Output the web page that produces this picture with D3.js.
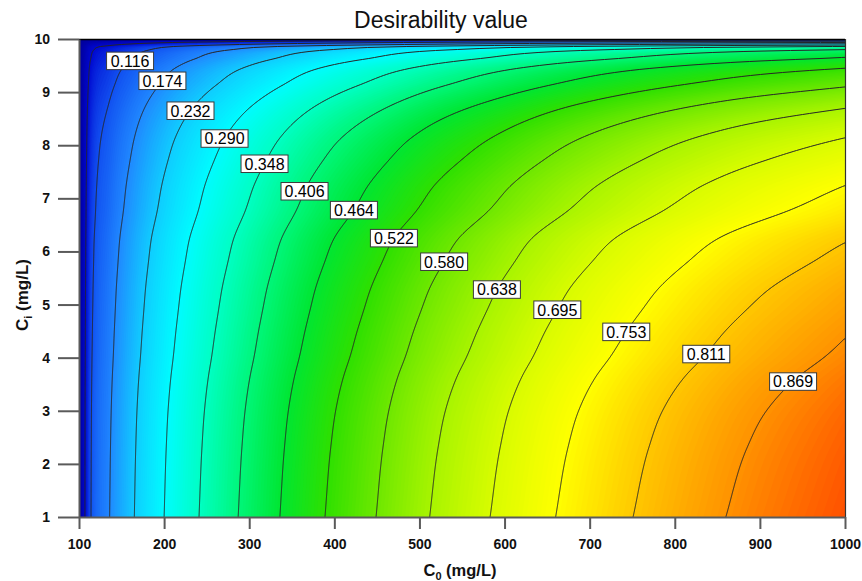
<!DOCTYPE html>
<html>
<head>
<meta charset="utf-8">
<script src="https://cdn.jsdelivr.net/npm/d3@7"></script>
<style>
  body { margin: 0; background: #fff; }
  svg { display: block; }
  text { font-family: Arial, "Liberation Sans", sans-serif; }
</style>
</head>
<body>
<svg id="chart" width="862" height="581"></svg>
<script>
// ---- Data ---------------------------------------------------------------
// Desirability along the lower edge (Ci = 1 mg/L) as a function of C0
const c0Knots   = [100, 107, 114, 136, 165, 200, 241, 287, 336, 389, 449, 512, 583, 660, 751, 860, 1000];
const dAtCiMin  = [0.000, 0.058, 0.116, 0.174, 0.232, 0.290, 0.348, 0.406, 0.464, 0.522, 0.580, 0.638, 0.695, 0.753, 0.811, 0.869, 0.927];

// Desirability along the right edge (C0 = 1000 mg/L) as a function of Ci
const ciKnots   = [1, 2.3, 3, 3.64, 4.02, 4.5, 4.89, 5.3, 5.79, 6.22, 6.77, 7.26, 7.67, 8.14, 8.67, 9.13, 9.45, 9.62, 9.80, 9.86, 9.885, 9.935, 9.98, 10];
const dAtC0Max  = [0.927, 0.915, 0.905, 0.890, 0.878, 0.8655, 0.8545, 0.843, 0.825, 0.8085, 0.775, 0.752, 0.727, 0.695, 0.641, 0.575, 0.522, 0.474, 0.406, 0.348, 0.290, 0.174, 0.058, 0.000];

// Contour levels (the lowest one is drawn without a label)
const contourLevels = [0.058, 0.116, 0.174, 0.232, 0.290, 0.348, 0.406, 0.464, 0.522, 0.580, 0.638, 0.695, 0.753, 0.811, 0.869];
const labelledLevels = contourLevels.slice(1);
// C0 position at which each contour label sits
const labelC0 = [160, 198, 231, 271, 318, 365, 423, 470, 529, 591, 662, 743, 837, 939];

const xTicks = [100, 200, 300, 400, 500, 600, 700, 800, 900, 1000];
const yTicks = [1, 2, 3, 4, 5, 6, 7, 8, 9, 10];

// ---- Layout -------------------------------------------------------------
const plot = { left: 79, right: 845, top: 39, bottom: 517 };
const svg = d3.select("#chart");

const x = d3.scaleLinear().domain([100, 1000]).range([plot.left, plot.right]);
const y = d3.scaleLinear().domain([1, 10]).range([plot.bottom, plot.top]);

// Colour ramp of the response surface
const color = d3.scaleLinear()
  .domain([0.00, 0.06, 0.116, 0.174, 0.232, 0.29, 0.348, 0.406, 0.464, 0.522, 0.58, 0.638, 0.695, 0.753, 0.811, 0.869, 0.927])
  .range(["#00009a", "#0008d0", "#1250f0", "#2088ff", "#10ccff", "#00fcff", "#00ffc4", "#00f67a", "#00e632",
          "#2ee000", "#6ee800", "#a8f400", "#d8fc00", "#ffff00", "#ffc800", "#ff9200", "#ff5000"])
  .interpolate(d3.interpolateRgb)
  .clamp(true);

// Monotone cubic (Steffen) interpolation through the profile knots
function monotone(xs, ys) {
  const n = xs.length, h = [], d = [], m = [];
  for (let i = 0; i < n - 1; i++) { h[i] = xs[i + 1] - xs[i]; d[i] = (ys[i + 1] - ys[i]) / h[i]; }
  m[0] = d[0]; m[n - 1] = d[n - 2];
  for (let i = 1; i < n - 1; i++) {
    if (d[i - 1] * d[i] <= 0) { m[i] = 0; continue; }
    const p = (d[i - 1] * h[i] + d[i] * h[i - 1]) / (h[i - 1] + h[i]);
    m[i] = (Math.sign(d[i - 1]) + Math.sign(d[i])) * Math.min(Math.abs(d[i - 1]), Math.abs(d[i]), 0.5 * Math.abs(p));
  }
  return v => {
    if (v <= xs[0]) return ys[0];
    if (v >= xs[n - 1]) return ys[n - 1];
    let i = d3.bisectRight(xs, v) - 1;
    const t = (v - xs[i]) / h[i], t2 = t * t, t3 = t2 * t;
    return (2 * t3 - 3 * t2 + 1) * ys[i] + (t3 - 2 * t2 + t) * h[i] * m[i] +
           (-2 * t3 + 3 * t2) * ys[i + 1] + (t3 - t2) * h[i] * m[i + 1];
  };
}

const alongC0 = monotone(c0Knots, dAtCiMin);
const alongCi = monotone(ciKnots, dAtC0Max);
const dTop = dAtCiMin[dAtCiMin.length - 1];
const desirability = (c0, ci) => alongC0(c0) * alongCi(ci) / dTop;

// ---- Sampled grid (slightly wider than the plot so edges stay open) -----
const cellW = 2, cellH = 1, pad = 3;
const gx0 = plot.left - pad * cellW, gy0 = plot.top - pad * cellH;
const nx = Math.ceil((plot.right - plot.left) / cellW) + 2 * pad;
const ny = Math.ceil((plot.bottom - plot.top) / cellH) + 2 * pad;
const grid = new Float64Array(nx * ny);
for (let j = 0; j < ny; j++) {
  const ci = Math.max(1, Math.min(10, y.invert(gy0 + (j + 0.5) * cellH)));
  for (let i = 0; i < nx; i++) {
    const c0 = Math.max(100, Math.min(1000, x.invert(gx0 + (i + 0.5) * cellW)));
    grid[j * nx + i] = desirability(c0, ci);
  }
}
const toPixels = d3.geoPath(d3.geoTransform({
  point(px, py) { this.stream.point(gx0 + px * cellW, gy0 + py * cellH); }
}));

svg.append("defs").append("clipPath").attr("id", "plot-clip")
  .append("rect")
  .attr("x", plot.left).attr("y", plot.top)
  .attr("width", plot.right - plot.left).attr("height", plot.bottom - plot.top);

const surface = svg.append("g").attr("clip-path", "url(#plot-clip)");

// Smooth colour fill built from many thin bands
const bandStep = 0.004;
const bandThresholds = d3.range(bandStep, 0.93, bandStep);
surface.append("rect")
  .attr("x", plot.left).attr("y", plot.top)
  .attr("width", plot.right - plot.left).attr("height", plot.bottom - plot.top)
  .attr("fill", color(0));
surface.append("g")
  .selectAll("path")
  .data(d3.contours().size([nx, ny]).thresholds(bandThresholds)(grid))
  .join("path")
  .attr("d", toPixels)
  .attr("fill", d => color(d.value + bandStep / 2));

// Contour lines
surface.append("g")
  .selectAll("path")
  .data(d3.contours().size([nx, ny]).thresholds(contourLevels)(grid))
  .join("path")
  .attr("d", toPixels)
  .attr("fill", "none")
  .attr("stroke", "#262626")
  .attr("stroke-width", 1);

// ---- Frame & axes -------------------------------------------------------
svg.append("line")
  .attr("x1", plot.left).attr("x2", plot.right)
  .attr("y1", plot.top + 0.5).attr("y2", plot.top + 0.5)
  .attr("stroke", "#000").attr("stroke-width", 1.5);
svg.append("line")
  .attr("x1", plot.right + 0.5).attr("x2", plot.right + 0.5)
  .attr("y1", plot.top).attr("y2", plot.bottom)
  .attr("stroke", "#333").attr("stroke-width", 1.2);

const yAxis = svg.append("g")
  .attr("transform", `translate(${plot.left},0)`)
  .call(d3.axisLeft(y).tickValues(yTicks).tickSize(21).tickSizeOuter(0).tickPadding(8).tickFormat(d3.format("d")));
const xAxis = svg.append("g")
  .attr("transform", `translate(0,${plot.bottom})`)
  .call(d3.axisBottom(x).tickValues(xTicks).tickSize(12).tickSizeOuter(0).tickPadding(10).tickFormat(d3.format("d")));

[yAxis, xAxis].forEach(ax => {
  ax.select(".domain").attr("stroke", "#5a5a5a").attr("stroke-width", 2);
  ax.selectAll(".tick line").attr("stroke", "#5a5a5a").attr("stroke-width", 2);
  ax.selectAll(".tick text")
    .attr("fill", "#111")
    .style("font-family", "Arial, 'Liberation Sans', sans-serif")
    .style("font-size", "14px")
    .style("font-weight", "bold");
});

// ---- Contour labels -----------------------------------------------------
function ciOnLevel(level, c0) {
  let lo = 1, hi = 10;
  for (let k = 0; k < 60; k++) {
    const mid = (lo + hi) / 2;
    if (desirability(c0, mid) > level) lo = mid; else hi = mid;
  }
  return (lo + hi) / 2;
}
const labelFmt = d3.format(".3f");
const labels = svg.append("g")
  .selectAll("g")
  .data(labelledLevels.map((lv, i) => ({ level: lv, c0: labelC0[i] })))
  .join("g")
  .attr("transform", d => `translate(${x(d.c0)},${y(ciOnLevel(d.level, d.c0))})`);
labels.append("rect")
  .attr("x", -23.5).attr("y", -8.5).attr("width", 47).attr("height", 17.5)
  .attr("fill", "#fff").attr("stroke", "#3a3a3a").attr("stroke-width", 1);
labels.append("text")
  .attr("text-anchor", "middle")
  .attr("dy", "0.38em")
  .attr("fill", "#000")
  .style("font-size", "16px")
  .text(d => labelFmt(d.level));

// ---- Titles -------------------------------------------------------------
svg.append("text")
  .attr("x", 441).attr("y", 28)
  .attr("text-anchor", "middle")
  .attr("fill", "#111")
  .style("font-size", "23px")
  .text("Desirability value");

const xTitle = svg.append("text")
  .attr("x", 460).attr("y", 576)
  .attr("text-anchor", "middle")
  .attr("fill", "#111")
  .style("font-size", "16.5px")
  .style("font-weight", "bold");
xTitle.append("tspan").text("C");
xTitle.append("tspan").attr("dy", 4).style("font-size", "11px").text("0");
xTitle.append("tspan").attr("dy", -4).text(" (mg/L)");

const yTitle = svg.append("text")
  .attr("transform", "translate(28,295) rotate(-90)")
  .attr("text-anchor", "middle")
  .attr("fill", "#111")
  .style("font-size", "17px")
  .style("font-weight", "bold");
yTitle.append("tspan").text("C");
yTitle.append("tspan").attr("dy", 4).style("font-size", "11px").text("i");
yTitle.append("tspan").attr("dy", -4).text(" (mg/L)");
</script>
</body>
</html>
